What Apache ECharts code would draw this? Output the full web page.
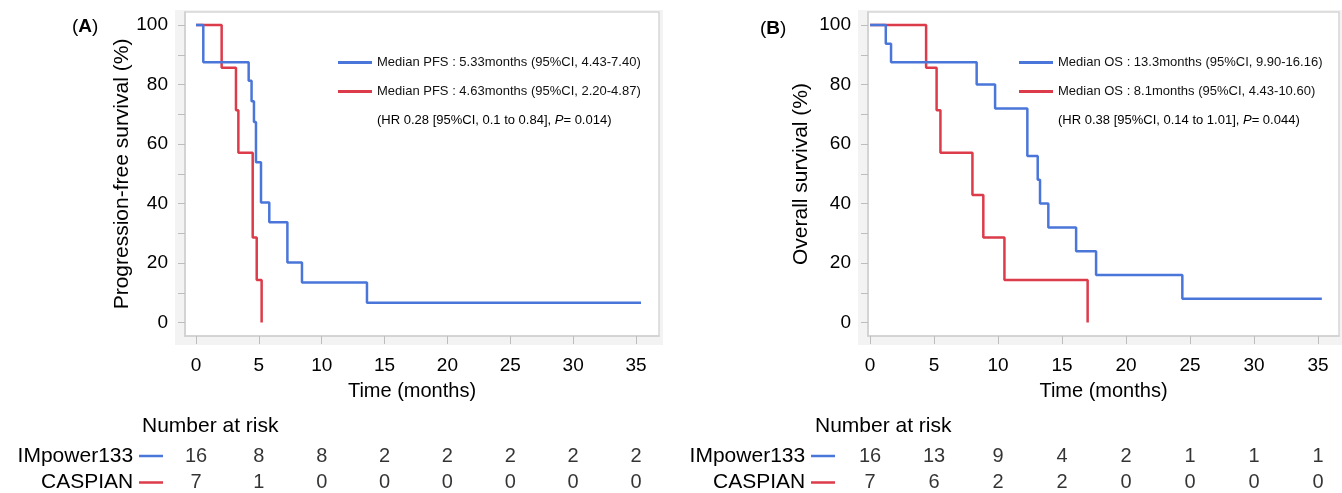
<!DOCTYPE html>
<html>
<head>
<meta charset="utf-8">
<script src="https://cdn.jsdelivr.net/npm/echarts@6/dist/echarts.min.js"></script>
<style>
  html, body { margin: 0; padding: 0; background: #fff; }
  #main { width: 1342px; height: 493px; }
</style>
</head>
<body>
<div id="main"></div>
<script>
// --- data ---
// (A) progression-free survival, step points (months, %)
var pfsImpTime = [0, 0.58, 4.19, 4.42, 4.61, 4.77, 5.17, 5.83, 7.27, 8.43, 13.6, 35.4];
var pfsImpSurv = [100, 87.5, 81.3, 74.4, 67.4, 53.9, 40.4, 33.7, 20.2, 13.5, 6.7, 6.7];
var pfsCasTime = [0, 2.04, 3.18, 3.37, 4.51, 4.83, 5.22];
var pfsCasSurv = [100, 85.7, 71.4, 57.1, 28.6, 14.3, 0];
// (B) overall survival
var osImpTime = [0, 1.23, 1.64, 8.33, 9.77, 12.29, 13.1, 13.28, 13.93, 16.1, 17.66, 24.4, 35.3];
var osImpSurv = [100, 93.75, 87.5, 80, 72, 56, 48, 40, 32, 24, 16, 8, 8];
var osCasTime = [0, 4.38, 5.2, 5.5, 8.0, 8.85, 10.5, 17.0];
var osCasSurv = [100, 85.7, 71.4, 57.1, 42.9, 28.6, 14.3, 0];

// number at risk
var riskTimes = [0, 5, 10, 15, 20, 25, 30, 35];
var riskGroups = ['IMpower133', 'CASPIAN'];
var pfsRiskImp = [16, 8, 8, 2, 2, 2, 2, 2];
var pfsRiskCas = [7, 1, 0, 0, 0, 0, 0, 0];
var osRiskImp = [16, 13, 9, 4, 2, 1, 1, 1];
var osRiskCas = [7, 6, 2, 2, 0, 0, 0, 0];

var yTicks = [0, 10, 20, 30, 40, 50, 60, 70, 80, 90, 100];
var yLabels = [0, 20, 40, 60, 80, 100];

var legA = ['Median PFS : 5.33months (95%CI, 4.43-7.40)', 'Median PFS : 4.63months (95%CI, 2.20-4.87)'];
var legB = ['Median OS : 13.3months (95%CI, 9.90-16.16)', 'Median OS : 8.1months (95%CI, 4.43-10.60)'];

var BLUE = '#4a76d9', RED = '#dc3b4a';
var FONT = 'Liberation Sans';

function pairs(t, s) {
  return t.map(function (v, i) { return [v, s[i]]; });
}

function kmSeries(name, t, s, color, axis) {
  return {
    name: name, type: 'line', step: 'end', symbol: 'none',
    xAxisIndex: axis, yAxisIndex: axis,
    data: pairs(t, s),
    itemStyle: { color: color },
    lineStyle: { color: color, width: 2.5 },
    emphasis: { disabled: true }, silent: true
  };
}

function riskSeries(group, vals, axis) {
  return {
    type: 'scatter', xAxisIndex: axis, yAxisIndex: axis,
    symbolSize: 1, itemStyle: { color: 'rgba(0,0,0,0)' }, silent: true,
    data: riskTimes.map(function (t, i) { return [t, group, vals[i]]; }),
    label: {
      show: true, position: 'inside', color: '#000', fontSize: 20, fontFamily: FONT,
      formatter: function (p) { return p.value[2]; }
    }
  };
}

function plotX(grid, min, max, name, pad) {
  return {
    type: 'value', gridIndex: grid, min: min, max: max,
    name: name, nameLocation: 'middle', nameGap: 45,
    nameTextStyle: { color: '#000', fontSize: 20, fontFamily: FONT, padding: pad },
    splitLine: { show: false },
    axisLine: { onZero: false, lineStyle: { color: '#cfcfcf', width: 1.5 } },
    axisTick: { customValues: riskTimes, length: 8, lineStyle: { color: '#bdbdbd' } },
    axisLabel: { customValues: riskTimes, margin: 20, color: '#000', fontSize: 19, fontFamily: FONT }
  };
}

function plotY(grid, name, gap) {
  return {
    type: 'value', gridIndex: grid, min: -4.5, max: 104.4,
    name: name, nameLocation: 'middle', nameGap: gap,
    nameTextStyle: { color: '#000', fontSize: 21, fontFamily: FONT },
    splitLine: { show: false },
    axisLine: { show: true, onZero: false, lineStyle: { color: '#cfcfcf', width: 1.5 } },
    axisTick: { customValues: yTicks, length: 7, lineStyle: { color: '#bdbdbd' } },
    axisLabel: { customValues: yLabels, margin: 17, color: '#000', fontSize: 19, fontFamily: FONT }
  };
}

function riskY(grid, margin) {
  return {
    type: 'category', gridIndex: grid, data: riskGroups, inverse: true, boundaryGap: false,
    axisLine: { show: false }, axisTick: { show: false }, splitLine: { show: false },
    axisLabel: {
      interval: 0, hideOverlap: false,
      margin: margin, color: '#000', fontSize: 21, fontFamily: FONT,
      formatter: function (v) { return v + ' {' + (v === 'CASPIAN' ? 'r' : 'b') + '|}'; },
      rich: {
        b: { width: 24, height: 2.5, backgroundColor: BLUE },
        r: { width: 24, height: 2.5, backgroundColor: RED }
      }
    }
  };
}

function hidden(grid, min, max) {
  return { type: 'value', gridIndex: grid, show: false, min: min, max: max };
}

function textTitle(text, left, top, size) {
  return {
    text: text, left: left, top: top,
    textStyle: { fontSize: size, fontWeight: 'normal', color: '#000', fontFamily: FONT,
      rich: {
        b: { fontSize: size, fontWeight: 'bold', color: '#000', fontFamily: FONT },
        i: { fontSize: size, fontStyle: 'italic', color: '#000', fontFamily: FONT }
      } }
  };
}

var chart = echarts.init(document.getElementById('main'));
chart.setOption({
  animation: false,
  backgroundColor: '#fff',
  textStyle: { fontFamily: FONT },
  grid: [
    { left: 175, top: 10, width: 488, height: 335, show: true, backgroundColor: '#f3f3f3', borderWidth: 0 },
    { left: 858, top: 10, width: 484, height: 335, show: true, backgroundColor: '#f3f3f3', borderWidth: 0 },
    { left: 185, top: 12, width: 474, height: 324, show: true, backgroundColor: '#fff', borderColor: '#d6d6d6', borderWidth: 1.5 },
    { left: 868, top: 12, width: 471, height: 324, show: true, backgroundColor: '#fff', borderColor: '#d6d6d6', borderWidth: 1.5 },
    { left: 185, top: 456, width: 474, height: 28 },
    { left: 868, top: 456, width: 471, height: 28 }
  ],
  xAxis: [
    hidden(0, 0, 1), hidden(1, 0, 1),
    plotX(2, -0.875, 36.83, 'Time (months)', [0, 20, 0, 0]),
    plotX(3, -0.16, 36.64, 'Time (months)', 0),
    { type: 'value', gridIndex: 4, min: -0.875, max: 36.83, show: false },
    { type: 'value', gridIndex: 5, min: -0.16, max: 36.64, show: false }
  ],
  yAxis: [
    hidden(0, 0, 1), hidden(1, 0, 1),
    plotY(2, 'Progression-free survival (%)', 46),
    plotY(3, 'Overall survival (%)', 56),
    riskY(4, 22), riskY(5, 33)
  ],
  legend: [
    { data: legA, orient: 'vertical', left: 333, top: 51, icon: 'rect', itemWidth: 34, itemHeight: 3,
      itemGap: 16, selectedMode: false, textStyle: { color: '#111', fontSize: 13, fontFamily: FONT } },
    { data: legB, orient: 'vertical', left: 1014, top: 51, icon: 'rect', itemWidth: 34, itemHeight: 3,
      itemGap: 16, selectedMode: false, textStyle: { color: '#111', fontSize: 13, fontFamily: FONT } }
  ],
  title: [
    textTitle('({b|A})', 67, 12, 19),
    textTitle('({b|B})', 755, 14, 19),
    textTitle('(HR 0.28 [95%CI, 0.1 to 0.84], {i|P}= 0.014)', 372, 109, 13),
    textTitle('(HR 0.38 [95%CI, 0.14 to 1.01], {i|P}= 0.044)', 1053, 109, 13),
    textTitle('Number at risk', 137, 411, 21),
    textTitle('Number at risk', 810, 411, 21)
  ],
  series: [
    kmSeries(legA[1], pfsCasTime, pfsCasSurv, RED, 2),
    kmSeries(legA[0], pfsImpTime, pfsImpSurv, BLUE, 2),
    kmSeries(legB[1], osCasTime, osCasSurv, RED, 3),
    kmSeries(legB[0], osImpTime, osImpSurv, BLUE, 3),
    riskSeries('IMpower133', pfsRiskImp, 4),
    riskSeries('CASPIAN', pfsRiskCas, 4),
    riskSeries('IMpower133', osRiskImp, 5),
    riskSeries('CASPIAN', osRiskCas, 5)
  ]
});
</script>
</body>
</html>
